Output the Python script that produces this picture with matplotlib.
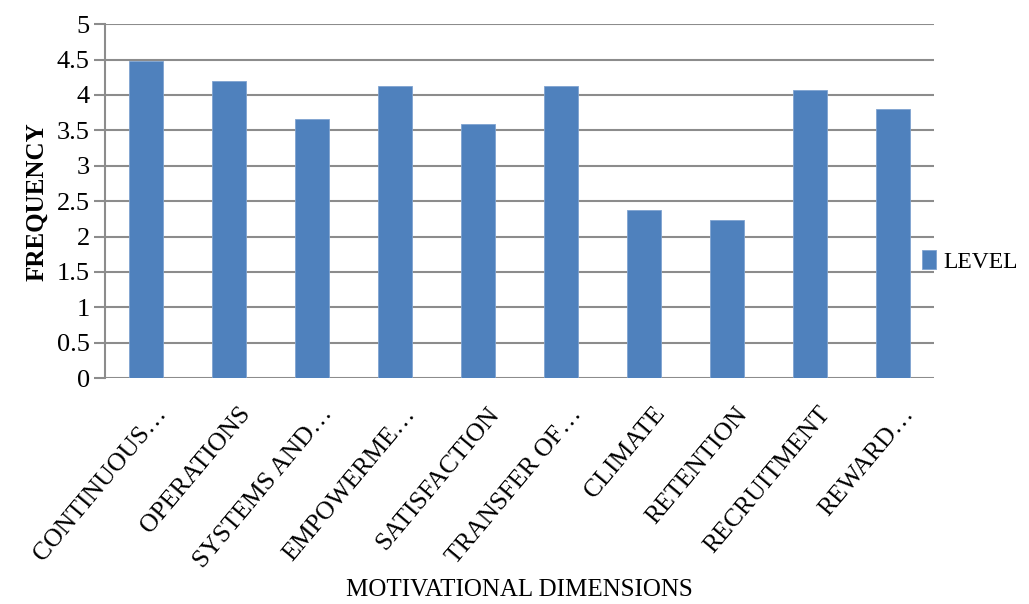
import matplotlib.pyplot as plt
import numpy as np

# data
categorias = ["CONTINUOUS…", "OPERATIONS", "SYSTEMS AND…", "EMPOWERME…", "SATISFACTION",
              "TRANSFER OF…", "CLIMATE", "RETENTION", "RECRUITMENT", "REWARD…"]
level = [4.48, 4.2, 3.66, 4.13, 3.59, 4.13, 2.37, 2.24, 4.07, 3.8]
yticks = [0, 0.5, 1, 1.5, 2, 2.5, 3, 3.5, 4, 4.5, 5]
ytick_labels = ["0", "0.5", "1", "1.5", "2", "2.5", "3", "3.5", "4", "4.5", "5"]

plt.rcParams['font.family'] = ['Liberation Serif', 'DejaVu Serif']

fig = plt.figure(figsize=(10.29, 6.04), dpi=100)
ax = fig.add_axes([0.102, 0.374, 0.806, 0.586])

x = np.arange(len(categorias))
ax.bar(x, level, width=0.41, color='#4F81BD', edgecolor='#7FA3D0', linewidth=0.6,
       label='LEVEL', zorder=3)

ax.set_xlim(-0.5, len(categorias) - 0.5)
ax.set_ylim(0, 5)
ax.set_yticks(yticks)
ax.set_yticklabels(ytick_labels, fontsize=19)
ax.yaxis.grid(True, color='#8C8C8C', linewidth=1.5, zorder=0)
ax.tick_params(axis='y', length=8, width=1.5, color='#8C8C8C', pad=3)

# etiquetas rodadas, ancoradas um pouco a direita do centro da barra
ax.set_xticks(x + 0.1)
ax.set_xticklabels(categorias, rotation=50, ha='right', rotation_mode='anchor', fontsize=18.5)
ax.tick_params(axis='x', length=0, pad=18)

for s in ['top', 'right', 'bottom']:
    ax.spines[s].set_visible(False)
ax.spines['left'].set_color('#8C8C8C')
ax.spines['left'].set_linewidth(1.5)

ax.set_ylabel("FREQUENCY", fontsize=18, fontweight='bold', labelpad=6)
fig.text(0.505, 0.023, "MOTIVATIONAL DIMENSIONS", fontsize=18, ha='center', va='center')

ax.legend(loc='center left', bbox_to_anchor=(0.985, 0.33), frameon=False, fontsize=17,
          handlelength=0.6, handleheight=0.9, handletextpad=0.3,
          borderpad=0, borderaxespad=0)

plt.savefig('out.png', dpi=100)
